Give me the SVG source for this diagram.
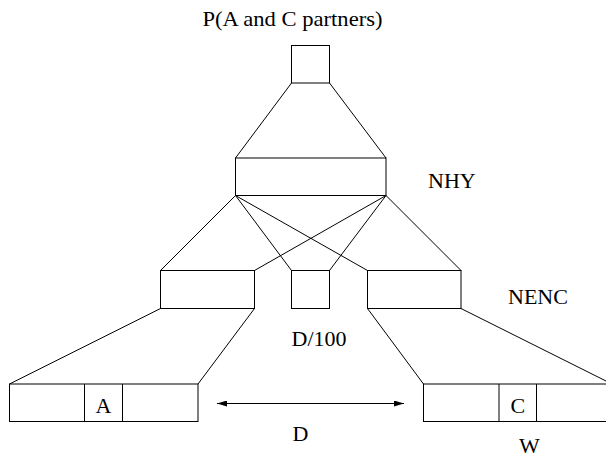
<svg xmlns="http://www.w3.org/2000/svg" width="606" height="458" viewBox="0 0 606 458">
<style>
.box{fill:none;stroke:#000;stroke-width:1}
.ln{fill:none;stroke:#000;stroke-width:1}
text{font-family:"Liberation Serif","Times New Roman",serif;font-size:22px;fill:#000}
.m{text-anchor:middle}
</style>
<defs>
<marker id="ah" viewBox="0 0 10 6" refX="10" refY="3" markerWidth="10" markerHeight="6" markerUnits="userSpaceOnUse" orient="auto-start-reverse">
<path d="M0,0 L10,3 L0,6 Z" fill="#000"/>
</marker>
</defs>
<rect width="606" height="458" fill="#fff"/>
<text x="292.5" y="26" class="m" textLength="180" lengthAdjust="spacingAndGlyphs">P(A and C partners)</text>
<g id="connectors">
<line class="ln" x1="291.5" y1="83" x2="235.5" y2="158"/>
<line class="ln" x1="329.5" y1="83" x2="386" y2="158"/>
<line class="ln" x1="235.5" y1="195.5" x2="160.5" y2="270.5"/>
<line class="ln" x1="235.5" y1="195.5" x2="291.5" y2="270.5"/>
<line class="ln" x1="235.5" y1="195.5" x2="367.5" y2="270.5"/>
<line class="ln" x1="386" y1="195.5" x2="461" y2="270.5"/>
<line class="ln" x1="386" y1="195.5" x2="329.5" y2="270.5"/>
<line class="ln" x1="386" y1="195.5" x2="254.5" y2="270.5"/>
<line class="ln" x1="160.5" y1="308.5" x2="9.5" y2="384"/>
<line class="ln" x1="254.5" y1="308.5" x2="198" y2="384"/>
<line class="ln" x1="367.5" y1="308.5" x2="423.5" y2="384"/>
<line class="ln" x1="461" y1="308.5" x2="612" y2="384"/>
<line class="ln" x1="217" y1="403.5" x2="404" y2="403.5" stroke-width="1.5" marker-start="url(#ah)" marker-end="url(#ah)"/>
</g>
<g id="top">
<rect class="box" x="291.5" y="45.5" width="38" height="37.5"/>
</g>
<g id="nhy">
<rect class="box" x="235.5" y="158" width="150.5" height="37.5"/>
<text x="428" y="187.5">NHY</text>
</g>
<g id="nenc-left">
<rect class="box" x="160.5" y="270.5" width="94" height="38"/>
</g>
<g id="d100">
<rect class="box" x="291.5" y="270.5" width="38" height="38"/>
<text x="291.5" y="346">D/100</text>
</g>
<g id="nenc-right">
<rect class="box" x="367.5" y="270.5" width="93.5" height="38"/>
<text x="508" y="303.5">NENC</text>
</g>
<g id="row-a">
<rect class="box" x="9.5" y="384" width="188.5" height="37.5"/>
<line class="ln" x1="84.5" y1="384" x2="84.5" y2="421.5"/>
<line class="ln" x1="122.5" y1="384" x2="122.5" y2="421.5"/>
<text x="103.5" y="412.5" class="m">A</text>
</g>
<g id="row-c">
<rect class="box" x="423.5" y="384" width="188.5" height="37.5"/>
<line class="ln" x1="499" y1="384" x2="499" y2="421.5"/>
<line class="ln" x1="536.5" y1="384" x2="536.5" y2="421.5"/>
<text x="517.75" y="413" class="m">C</text>
</g>
<g id="labels">
<text x="292.5" y="441">D</text>
<text x="519" y="453">W</text>
</g>
</svg>
